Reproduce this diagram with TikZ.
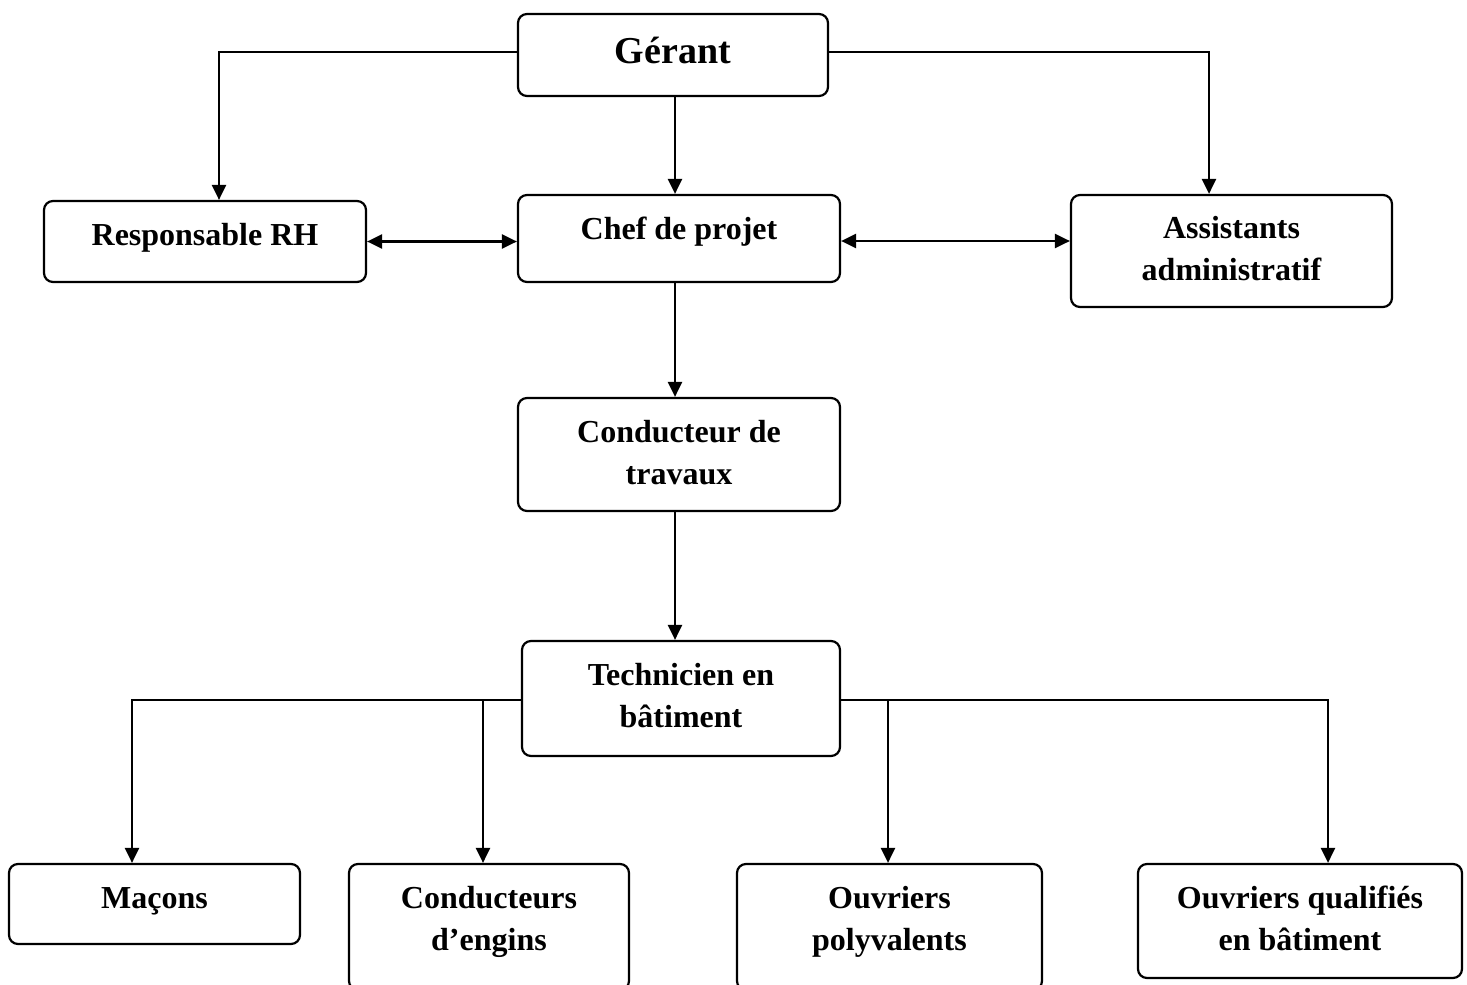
\documentclass[tikz,border=0pt]{standalone}
\usepackage{fontspec}
\setmainfont{Liberation Serif}
\usetikzlibrary{arrows.meta,positioning}
\begin{document}
\begin{tikzpicture}[x=1pt,y=-1pt,
  box/.style={draw,line width=2.2pt,rounded corners=9pt,inner sep=0pt},
  txt/.style={font=\bfseries\fontsize{32}{41.5}\selectfont,align=center,inner sep=0pt,anchor=base},
  big/.style={font=\bfseries\fontsize{38}{44}\selectfont,inner sep=0pt,anchor=base},
  arr/.style={line width=2.4pt,-{Triangle[length=15pt,width=14pt]}},
  darr/.style={line width=2.4pt,{Triangle[length=15pt,width=14pt]}-{Triangle[length=15pt,width=14pt]}}]
\useasboundingbox (0,0) rectangle (1467,985);
% boxes
\node[box,minimum width=310pt,minimum height=82pt] (gerant) at (673,55) {};
\node[box,minimum width=322pt,minimum height=81pt] (rh) at (205,241.5) {};
\node[box,minimum width=322pt,minimum height=87pt] (chef) at (679,238.5) {};
\node[box,minimum width=321pt,minimum height=112pt] (assist) at (1231.5,251) {};
\node[box,minimum width=322pt,minimum height=113pt] (cond) at (679,454.5) {};
\node[box,minimum width=318pt,minimum height=115pt] (tech) at (681,698.5) {};
\node[box,minimum width=291pt,minimum height=80pt] (macons) at (154.5,904) {};
\node[box,minimum width=280pt,minimum height=126pt] (engins) at (489,927) {};
\node[box,minimum width=305pt,minimum height=126pt] (polyv) at (889.5,927) {};
\node[box,minimum width=324pt,minimum height=114pt] (qual) at (1300,921) {};
% texts (base anchor = baseline of last line)
\node[big] (gerant-t) at (673,63) {Gérant};
\node[txt] (rh-t) at (205,245) {Responsable RH};
\node[txt] (chef-t) at (679,239) {Chef de projet};
\node[txt] (assist-t) at (1231.5,280) {Assistants\\administratif};
\node[txt] (cond-t) at (679,484) {Conducteur de\\travaux};
\node[txt] (tech-t) at (681,727) {Technicien en\\bâtiment};
\node[txt] (macons-t) at (154.5,908) {Maçons};
\node[txt] (engins-t) at (489,950) {Conducteurs\\d’engins};
\node[txt] (polyv-t) at (889.5,950) {Ouvriers\\polyvalents};
\node[txt] (qual-t) at (1300,950) {Ouvriers qualifiés\\en bâtiment};
% connectors
\draw[arr] ([yshift=3pt]gerant.west) -| ([xshift=14pt]rh.north);
\draw[arr] ([yshift=3pt]gerant.east) -| ([xshift=-22.5pt]assist.north);
\draw[arr] ([xshift=2pt]gerant.south) -- ([xshift=-4pt]chef.north);
\draw[darr] (rh.east) -- (rh.east -| chef.west);
\draw[darr] ([yshift=-2.5pt]chef.east) -- ([yshift=-2.5pt]chef.east -| assist.west);
\draw[arr] ([xshift=-4pt]chef.south) -- ([xshift=-4pt]cond.north);
\draw[arr] ([xshift=-4pt]cond.south) -- ([xshift=-6pt]tech.north);
\coordinate (bl) at (483,700);
\coordinate (br) at (888,700);
\draw[arr] ([yshift=-1.5pt]tech.west) -| ([xshift=-22.5pt]macons.north);
\draw[arr] ([yshift=-1.5pt]tech.east) -| ([xshift=28pt]qual.north);
\draw[arr] (bl) -- (bl |- engins.north);
\draw[arr] (br) -- (br |- polyv.north);
\end{tikzpicture}
\end{document}
